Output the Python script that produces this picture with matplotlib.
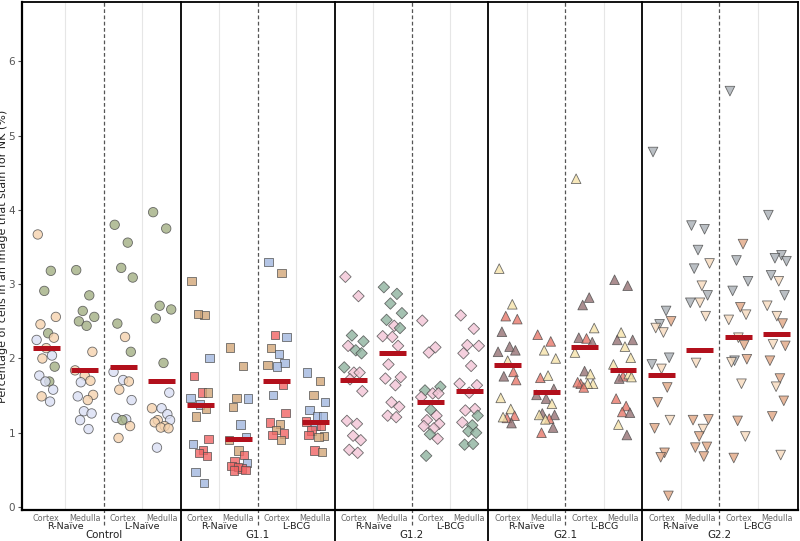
import matplotlib
matplotlib.use("Agg")
import matplotlib.pyplot as plt
import matplotlib.transforms as mtransforms

# groups, sides and tissues
groups = ["Control", "G1.1", "G1.2", "G2.1", "G2.2"]
sides = [["R-Naïve", "L-Naïve"], ["R-Naïve", "L-BCG"], ["R-Naïve", "L-BCG"],
         ["R-Naïve", "L-BCG"], ["R-Naïve", "L-BCG"]]
tissues = ["Cortex", "Medulla"]
markers = ["o", "s", "D", "^", "v"]

# values per column (R cortex, R medulla, L cortex, L medulla) and animal keys
control_values = [
    [3.67, 3.18, 2.91, 2.56, 2.46, 2.34, 2.28, 2.25, 2.14, 2.04, 2.00, 1.89, 1.77, 1.69, 1.69, 1.58, 1.49, 1.42],
    [3.19, 2.85, 2.64, 2.56, 2.50, 2.44, 2.09, 1.84, 1.77, 1.70, 1.68, 1.51, 1.49, 1.44, 1.29, 1.26, 1.17, 1.05],
    [3.80, 3.56, 3.22, 3.09, 2.47, 2.29, 2.09, 1.82, 1.71, 1.69, 1.58, 1.44, 1.20, 1.18, 1.17, 1.09, 0.93],
    [3.97, 3.75, 2.71, 2.66, 2.54, 1.94, 1.54, 1.33, 1.33, 1.25, 1.17, 1.17, 1.14, 1.09, 1.07, 1.06, 0.80],
]
control_animals = ["PGGPPGPLPLPGLGLLPL", "GGGGGGPPPPLPLPLLLL", "GGGGGPGLLPPLLLGPP", "GGGGGGLPLLPLPPPPL"]

g11_values = [
    [3.04, 2.59, 2.60, 2.01, 1.76, 1.54, 1.54, 1.47, 1.38, 1.32, 1.22, 0.92, 0.85, 0.77, 0.73, 0.69, 0.47, 0.32],
    [2.15, 1.90, 1.47, 1.46, 1.35, 1.11, 0.94, 0.90, 0.76, 0.70, 0.62, 0.59, 0.55, 0.52, 0.54, 0.50, 0.49],
    [3.30, 3.15, 2.32, 2.29, 2.14, 2.06, 1.94, 1.91, 1.89, 1.64, 1.51, 1.27, 1.14, 1.12, 1.04, 0.99, 0.97, 0.90],
    [1.81, 1.70, 1.51, 1.41, 1.31, 1.23, 1.23, 1.15, 1.09, 1.09, 1.03, 0.96, 0.97, 0.94, 0.76, 0.74],
]
g11_animals = ["TTTBRRTBBTTRBRRRBB", "TTTBTBBTTRRBRRRRR", "BTRBTBBTBRBRRTTRRT", "BTTBBBBRBRRTRTRT"]

g12_values = [
    [3.10, 2.84, 2.31, 2.23, 2.17, 2.11, 2.07, 1.88, 1.81, 1.81, 1.72, 1.56, 1.16, 1.12, 0.96, 0.90, 0.77, 0.73],
    [2.96, 2.87, 2.74, 2.61, 2.52, 2.44, 2.41, 2.30, 2.29, 2.17, 1.92, 1.75, 1.73, 1.64, 1.41, 1.35, 1.23, 1.21],
    [2.51, 2.15, 2.08, 1.62, 1.57, 1.53, 1.53, 1.48, 1.31, 1.23, 1.17, 1.12, 1.09, 1.06, 0.98, 0.92, 0.69],
    [2.58, 2.40, 2.18, 2.17, 2.07, 1.90, 1.64, 1.66, 1.54, 1.32, 1.30, 1.23, 1.14, 1.10, 1.02, 1.00, 0.84, 0.85],
]
g12_animals = ["KKNNKNNNKKKKKKKKKK", "NNNNNKNKKKKKKKKKKK", "KKKNNKKKNKKKKKNKN", "KKKKKKKKKKKNKNNNNN"]

g21_values = [
    [3.21, 2.73, 2.57, 2.53, 2.36, 2.16, 2.11, 2.09, 1.97, 1.82, 1.76, 1.71, 1.47, 1.32, 1.20, 1.23, 1.21, 1.13],
    [2.32, 2.23, 2.11, 2.00, 1.74, 1.77, 1.59, 1.51, 1.46, 1.39, 1.26, 1.24, 1.24, 1.19, 1.18, 1.07, 1.00],
    [4.42, 2.82, 2.72, 2.41, 2.28, 2.27, 2.22, 2.08, 1.83, 1.79, 1.66, 1.66, 1.68, 1.66, 1.61],
    [3.06, 2.98, 2.35, 2.25, 2.25, 2.16, 2.01, 1.92, 1.76, 1.79, 1.73, 1.75, 1.46, 1.36, 1.28, 1.27, 1.11, 0.97],
]
g21_animals = ["CCSSMMMMCSMSCCSSCM", "SSCCSCMMMCMMCSCMS", "CMMCMSMCMCSCSCS", "MMCMMCCCSCMCSSSMCM"]

g22_values = [
    [4.78, 2.64, 2.46, 2.50, 2.41, 2.35, 2.01, 1.92, 1.86, 1.61, 1.41, 1.17, 1.06, 0.73, 0.67, 0.15],
    [3.79, 3.74, 3.46, 3.28, 3.21, 2.98, 2.85, 2.75, 2.75, 2.57, 1.94, 1.18, 1.17, 1.05, 0.95, 0.81, 0.80, 0.68],
    [5.60, 3.54, 3.32, 3.04, 2.91, 2.69, 2.59, 2.52, 2.28, 2.18, 1.97, 1.99, 1.95, 1.66, 1.16, 0.95, 0.66],
    [3.93, 3.39, 3.35, 3.31, 3.12, 3.04, 2.85, 2.71, 2.57, 2.47, 2.19, 2.17, 1.97, 1.73, 1.62, 1.43, 1.22, 0.70],
]
g22_animals = ["YYYEFFYYFEEFEEEE", "YYYFYFYYFFFEEFEEEE", "YEYYYEFFFEYEFFEFE", "YYYYYFYFFEFEEEFEEF"]

# group means (red bars)
group_means = [
    [2.14, 1.85, 1.89, 1.70],
    [1.38, 0.92, 1.70, 1.15],
    [1.71, 2.07, 1.41, 1.56],
    [1.91, 1.55, 2.16, 1.84],
    [1.78, 2.12, 2.29, 2.33],
]

all_values = [control_values, g11_values, g12_values, g21_values, g22_values]
all_animals = [control_animals, g11_animals, g12_animals, g21_animals, g22_animals]

animal_colors = {
    "G": "#a3b083", "P": "#f6d3ae", "L": "#dadff4",
    "B": "#a2b7df", "T": "#d2a678", "R": "#f06464",
    "K": "#f3c5d6", "N": "#8fb39f",
    "C": "#f6e3aa", "S": "#e8786a", "M": "#967274",
    "Y": "#a9b0b6", "E": "#e2a684", "F": "#f7dabd",
}
marker_sizes = [46, 36, 34, 48, 48]
jitter = [-0.22, 0.12, -0.05, 0.25, -0.15, 0.05, 0.2, -0.25, 0.0,
          0.15, -0.1, 0.22, -0.18, 0.08, -0.02, 0.18, -0.12, 0.1]

fig = plt.figure(figsize=(8.0, 5.41), dpi=100)
ax = fig.add_axes([22 / 800, 1 - 510 / 541, 776 / 800, 508 / 541])

trans = mtransforms.blended_transform_factory(ax.transData, ax.transAxes)

# vertical guides
for k in range(20):
    if k % 2 == 0:
        ax.axvline(k + 0.5, color="#e6e6e6", lw=0.8, zorder=0)
for k in range(5):
    xd = 4 * k + 1.5
    ax.plot([xd, xd], [-0.03, 1], transform=trans, color="#555555", lw=0.9,
            ls=(0, (3, 2)), clip_on=False, zorder=1)
    if k > 0:
        xs = 4 * k - 0.5
        ax.plot([xs, xs], [-0.065, 1], transform=trans, color="black", lw=1.3,
                clip_on=False, zorder=3)

# points and means
for g in range(5):
    for c in range(4):
        col = 4 * g + c
        vals = all_values[g][c]
        keys = all_animals[g][c]
        xs = [col + jitter[i % len(jitter)] for i in range(len(vals))]
        cols = [animal_colors[ch] for ch in keys]
        ax.scatter(xs, vals, s=marker_sizes[g], marker=markers[g], c=cols,
                   edgecolors="#4a4a4a", linewidths=0.6, alpha=0.8, zorder=2)
        ax.hlines(group_means[g][c], col - 0.35, col + 0.35, color="#b2101c",
                  lw=3.6, zorder=4)

ax.set_xlim(-0.63, 19.55)
ax.set_ylim(-0.04, 6.8)
ax.set_yticks(range(7))
ax.tick_params(axis="y", labelsize=7.5, colors="#555555", length=3, width=0.8, pad=2)
ax.set_xticks([])
for name, sp in ax.spines.items():
    sp.set_color("black")
    sp.set_linewidth(1.6 if name in ("left", "bottom") else 1.3)

ax.set_ylabel("Percentage of cells in an image that stain for NK (%)", fontsize=8,
              color="#222222")
ax.yaxis.set_label_coords(-0.0175, 0.5)

# bottom labels
for g in range(5):
    for s in range(2):
        for t in range(2):
            col = 4 * g + 2 * s + t
            ax.text(col, -0.008, tissues[t], transform=trans, ha="center", va="top",
                    fontsize=5.8, color="#666666")
        ax.text(4 * g + 2 * s + 0.5, -0.023, sides[g][s], transform=trans, ha="center",
                va="top", fontsize=6.8, color="#222222")
    ax.text(4 * g + 1.5, -0.039, groups[g], transform=trans, ha="center", va="top",
            fontsize=7.4, color="#222222")

fig.savefig("out.png", dpi=100)
